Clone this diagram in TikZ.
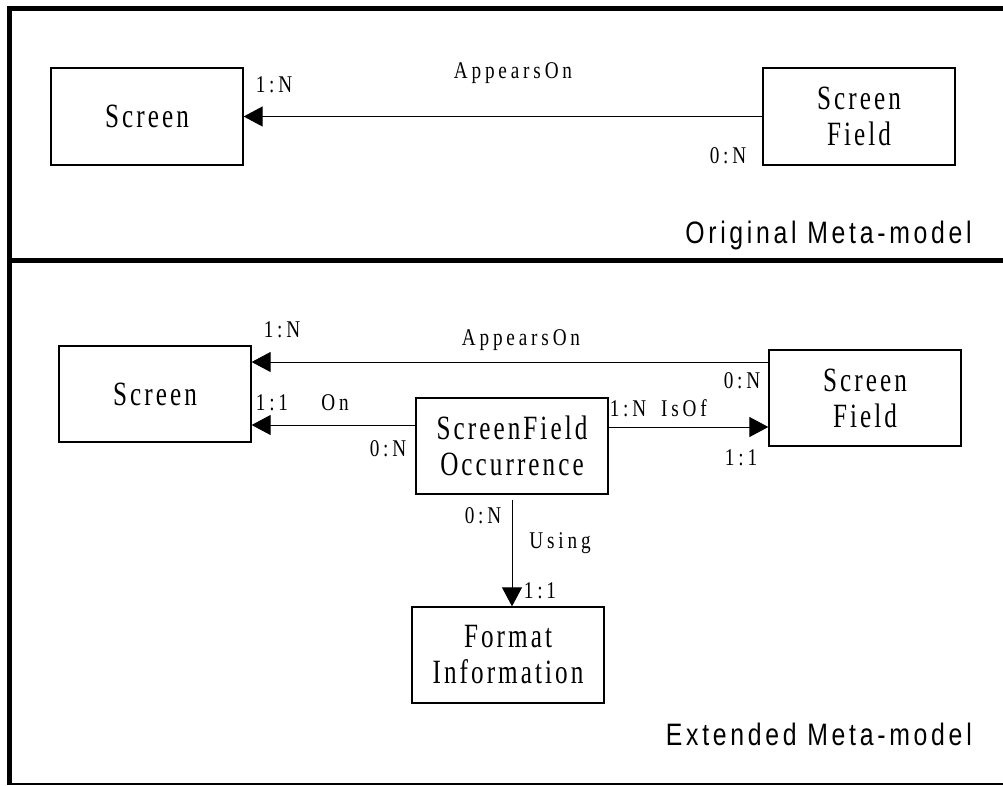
\documentclass[tikz,border=0pt]{standalone}
\usepackage{fontspec}
\usetikzlibrary{arrows.meta}
\newfontfamily\boxfont[FakeStretch=0.74, LetterSpace=9]{Liberation Serif}
\newfontfamily\lblfont[FakeStretch=0.8, LetterSpace=16]{Liberation Serif}
\newfontfamily\ttlfont[FakeStretch=0.8, LetterSpace=12]{Liberation Sans}
\tikzset{
  entity/.style={draw, line width=1.3pt, rectangle, minimum width=192pt, minimum height=97pt,
    inner sep=0pt, align=center, font=\boxfont\fontsize{34}{36}\selectfont},
  lbl/.style={anchor=base, inner sep=0pt, font=\lblfont\fontsize{24}{26}\selectfont},
  ttl/.style={anchor=base east, inner sep=0pt, font=\ttlfont\fontsize{31}{34}\selectfont},
  rel/.style={line width=1pt, -{Triangle[length=19pt,width=20pt]}},
  frame/.style={line width=5pt, line join=miter}
}
\begin{document}
\begin{tikzpicture}[x=1pt,y=-1pt]
\useasboundingbox (0,0) rectangle (1003,785);
% frame
\draw[frame] (1003,8.5) -- (9.2,8.5) -- (9.2,785);
\draw[frame] (9.2,260) -- (1003,260);
\draw[line width=1.5pt] (9.2,784) -- (1003,784);

% original meta-model
\node[entity] (s1) at (147,116.5) {Screen};
\node[entity] (f1) at (859,116.5) {Screen\\Field};
\draw[rel] (f1.west) -- (s1.east);
\node[lbl] (l1) at (274,92) {1:N};
\node[lbl] (l2) at (513,78) {AppearsOn};
\node[lbl] (l3) at (728,163) {0:N};
\node[ttl] (t1) at (972,243) {Original Meta-model};

% extended meta-model
\node[entity, minimum height=96pt] (s2) at (155,394) {Screen};
\node[entity, minimum height=96pt] (f2) at (865,398) {Screen\\Field};
\node[entity, minimum height=96pt] (o) at (512,446) {ScreenField\\Occurrence};
\node[entity, minimum height=96pt] (fi) at (508,655) {Format\\Information};

\coordinate (ap) at ([yshift=36pt]f2.west);
\draw[rel] (ap) -- (ap -| s2.east);
\coordinate (on) at ([yshift=21pt]o.west);
\draw[rel] (on) -- (on -| s2.east);
\coordinate (is) at ([yshift=19pt]o.east);
\draw[rel] (is) -- (is -| f2.west);
\coordinate (us) at ([yshift=-5pt]o.south);
\draw[rel] (us) -- (us |- fi.north);

\node[lbl] (m1) at (282,337) {1:N};
\node[lbl] (m2) at (521,345) {AppearsOn};
\node[lbl] (m3) at (742,388) {0:N};
\node[lbl] (m4) at (272,410) {1:1};
\node[lbl] (m5) at (335,410) {On};
\node[lbl] (m6) at (388,456) {0:N};
\node[lbl] (m7) at (628,416) {1:N};
\node[lbl] (m8) at (684,416) {IsOf};
\node[lbl] (m9) at (741,465) {1:1};
\node[lbl] (m10) at (483,523) {0:N};
\node[lbl] (m11) at (560,548) {Using};
\node[lbl] (m12) at (540,598) {1:1};
\node[ttl] (t2) at (972,745) {Extended Meta-model};
\end{tikzpicture}
\end{document}
